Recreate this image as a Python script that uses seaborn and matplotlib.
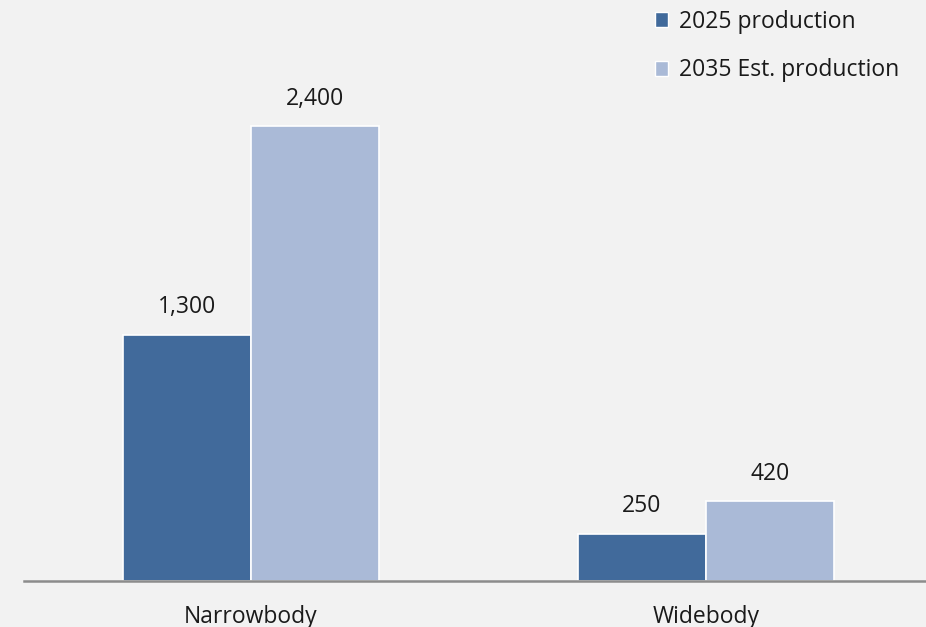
import matplotlib
matplotlib.use("Agg")
import matplotlib.pyplot as plt
import seaborn as sns
import pandas as pd
from matplotlib.patches import Patch

categories = ["Narrowbody", "Widebody"]
series_names = ["2025 production", "2035 Est. production"]
values_2025 = [1300, 250]
values_2035 = [2400, 420]
colors = ["#416a9b", "#aabad7"]

df = pd.DataFrame({
    "category": categories * 2,
    "series": [series_names[0]] * 2 + [series_names[1]] * 2,
    "value": values_2025 + values_2035,
})

sns.set_theme(style="white")
plt.rcParams["font.family"] = ["Open Sans", "DejaVu Sans"]

fig = plt.figure(figsize=(9.26, 6.27), dpi=100, facecolor="#f2f2f2")
ax = fig.add_axes([23.5 / 926, (627 - 581) / 627, 910 / 926, 581 / 627])
ax.set_facecolor("#f2f2f2")

sns.barplot(data=df, x="category", y="value", hue="series", order=categories,
            hue_order=series_names, palette=colors, width=0.5626,
            edgecolor="white", linewidth=1.2, ax=ax, legend=False, saturation=1)

ax.set_ylim(0, 581 / 455 * 2400)
ax.set_xlim(-0.5, 1.5)
for c in ax.containers:
    ax.bar_label(c, labels=[f"{v:,.0f}" for v in c.datavalues], padding=11,
                 fontsize=16.5, color="#1a1a1a")

for s in ["top", "right", "left"]:
    ax.spines[s].set_visible(False)
ax.spines["bottom"].set_color("#8c8c8c")
ax.spines["bottom"].set_linewidth(1.8)
ax.set_yticks([])
ax.set_xlabel("")
ax.set_ylabel("")
ax.tick_params(axis="x", length=0, pad=17, labelsize=16.5, colors="#1a1a1a")

handles = [Patch(facecolor=colors[0], edgecolor="white"),
           Patch(facecolor=colors[1], edgecolor="white")]
fig.legend(handles, series_names, loc="upper left",
           bbox_to_anchor=(634 / 926, 1 + 11 / 627), frameon=False,
           fontsize=16.5, handlelength=0.6, handleheight=0.6,
           handletextpad=0.45, labelspacing=1.08, labelcolor="#1a1a1a")

fig.savefig("out.png", dpi=100, facecolor=fig.get_facecolor())
